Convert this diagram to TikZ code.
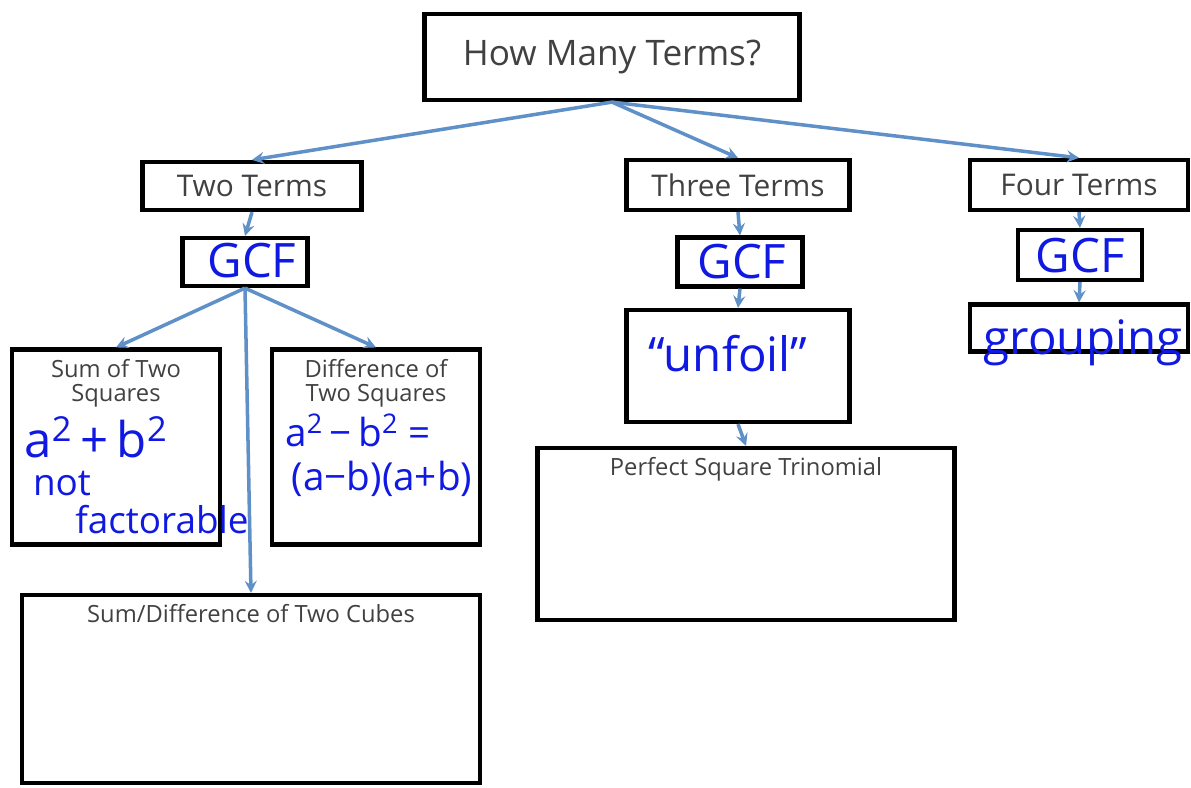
\documentclass[tikz,border=0pt]{standalone}
\usepackage{fontspec}
\setmainfont{Open Sans}
\usetikzlibrary{arrows, positioning}
\definecolor{arrowblue}{RGB}{95,145,200}
\definecolor{inkblue}{RGB}{15,25,225}
\definecolor{printgray}{RGB}{65,65,65}
\tikzset{
    termbox/.style={rectangle, draw=black, line width=2.4pt, inner sep=0pt, text centered, text=printgray},
    boxtitle/.style={anchor=north, align=center, text=printgray, font=\fontsize{13.5}{14}\selectfont, yshift=-3pt},
    ink/.style={text=inkblue, inner sep=0pt},
    arrow/.style={draw=arrowblue, line width=2pt, ->, >=stealth}
}

\begin{document}
\begin{tikzpicture}[x=0.02cm, y=-0.02cm,
        big/.style={font=\fontsize{20}{24}\selectfont},
        mid/.style={font=\fontsize{17}{20}\selectfont},
        hand/.style={ink, font=\fontsize{27}{30}\selectfont}
    ]
        \useasboundingbox (0,0) rectangle (1191,788);

        % question and number of terms
        \node[termbox, big, minimum width=7.5cm, minimum height=1.72cm] (top) at (612,57) {How Many Terms?};
        \node[termbox, mid, minimum width=4.38cm, minimum height=0.96cm] (two) at (252,186) {Two Terms};
        \node[termbox, mid, minimum width=4.46cm, minimum height=1.0cm] (three) at (738,185) {Three Terms};
        \node[termbox, mid, minimum width=4.36cm, minimum height=1.0cm] (four) at (1079,185) {Four Terms};

        % GCF boxes
        \node[termbox, minimum width=2.5cm, minimum height=0.96cm] (gcfA) at (245,262) {};
        \node[termbox, minimum width=2.5cm, minimum height=0.98cm] (gcfB) at (740,262) {};
        \node[termbox, minimum width=2.48cm, minimum height=1.0cm] (gcfC) at (1080,255) {};
        \node[hand] (gcfAtxt) at (252,261) {GCF};
        \node[hand] (gcfBtxt) at (742,262) {GCF};
        \node[hand] (gcfCtxt) at (1080,256) {GCF};

        % two terms
        \node[termbox, minimum width=4.16cm, minimum height=3.9cm,
            label={[boxtitle]north:Sum of Two\\Squares}] (sumsq) at (116,447) {};
        \node[termbox, minimum width=4.16cm, minimum height=3.9cm,
            label={[boxtitle]north:Difference of\\Two Squares}] (diffsq) at (376,447) {};
        \node[termbox, minimum width=9.16cm, minimum height=3.76cm,
            label={[boxtitle]north:Sum/Difference of Two Cubes}] (cubes) at (251,689) {};

        \node[ink, font=\fontsize{28}{30}\selectfont] (sumtxt) at (96,437) {a\textsuperscript{2}\,+\,b\textsuperscript{2}};
        \node[ink, font=\fontsize{21}{22}\selectfont] (nottxt) at (62,484) {not};
        \node[ink, font=\fontsize{21}{22}\selectfont] (facttxt) at (162,520) {factorable};
        \node[ink, font=\fontsize{22}{24}\selectfont] (difftxt) at (358,430) {a\textsuperscript{2}\,−\,b\textsuperscript{2} =};
        \node[ink, font=\fontsize{22}{24}\selectfont] (factrtxt) at (382,479) {(a−b)(a+b)};

        % three terms
        \node[termbox, minimum width=4.46cm, minimum height=2.24cm] (unfoil) at (738,366) {};
        \node[hand] (unfoiltxt) at (728,354) {“unfoil”};
        \node[termbox, minimum width=8.34cm, minimum height=3.44cm,
            label={[boxtitle]north:Perfect Square Trinomial}] (pst) at (746,534) {};

        % four terms
        \node[termbox, minimum width=4.36cm, minimum height=0.94cm] (grouping) at (1079,328) {};
        \node[hand] (groupingtxt) at (1083,343) {grouping};

        % Connections
        \draw[arrow] (top.south) -- (two.north);
        \draw[arrow] (top.south) -- (three.north);
        \draw[arrow] (top.south) -- (four.north);
        \draw[arrow] (two.south) -- (gcfA.north);
        \draw[arrow] (gcfA.south) -- (sumsq.north);
        \draw[arrow] (gcfA.south) -- (diffsq.north);
        \draw[arrow] (gcfA.south) -- (cubes.north);
        \draw[arrow] (three.south) -- (gcfB.north);
        \draw[arrow] (gcfB.south) -- (unfoil.north);
        \draw[arrow] (unfoil.south) -- (pst.north);
        \draw[arrow] (four.south) -- (gcfC.north);
        \draw[arrow] (gcfC.south) -- (grouping.north);

    \end{tikzpicture}
\end{document}
